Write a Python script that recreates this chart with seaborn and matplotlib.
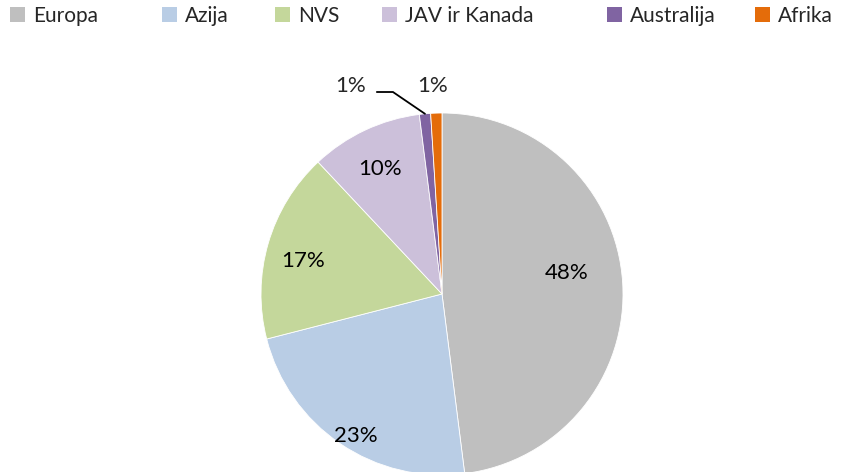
import numpy as np
import matplotlib
matplotlib.use("Agg")
import matplotlib.pyplot as plt
import seaborn as sns
from matplotlib.patches import Patch

categories = ["Europa", "Azija", "NVS", "JAV ir Kanada", "Australija", "Afrika"]
values = [48, 23, 17, 10, 1, 1]
pct_labels = ["48%", "23%", "17%", "10%", "1%", "1%"]
colors = ["#BFBFBF", "#B9CDE5", "#C4D79B", "#CCC0DA", "#8064A2", "#E46C0A"]

sns.set_theme(style="white")
plt.rcParams["font.family"] = ["Lato", "DejaVu Sans"]

fig = plt.figure(figsize=(8.66, 4.72), dpi=100)
W, H = 866, 472
cx, cy, R = 442, 294, 181
ax = fig.add_axes([(cx - R) / W, (H - cy - R) / H, 2 * R / W, 2 * R / H])

wedges, _ = ax.pie(values, colors=colors, startangle=90, counterclock=False,
                   wedgeprops=dict(edgecolor="white", linewidth=0.6))
ax.set_xlim(-1, 1)
ax.set_ylim(-1, 1)
ax.set_aspect("equal")
ax.axis("off")

FS = 16
# label placement (radius, angle offset in degrees) for the large slices
label_pos = {0: (0.70, 6), 1: (0.92, 3), 2: (0.79, 3), 3: (0.77, 1)}
for i, w in enumerate(wedges):
    mid = np.deg2rad((w.theta1 + w.theta2) / 2)
    if i in label_pos:
        r, off = label_pos[i]
        a = mid + np.deg2rad(off)
        ax.text(r * np.cos(a), r * np.sin(a), pct_labels[i], ha="center", va="center",
                fontsize=FS, color="black")

# small slices
w_au = wedges[4]
mid = np.deg2rad((w_au.theta1 + w_au.theta2) / 2)
tip = (np.cos(mid) * 1.0, np.sin(mid) * 1.0)
ax.plot([-0.36, -0.271, tip[0]], [1.116, 1.116, tip[1]], color="black", lw=1.3,
        clip_on=False, solid_joinstyle="miter")
ax.text(-0.503, 1.15, pct_labels[4], ha="center", va="center", fontsize=FS, clip_on=False)
ax.text(-0.05, 1.15, pct_labels[5], ha="center", va="center", fontsize=FS, clip_on=False)

# legend entries positioned individually (square left edges in px)
leg_x = [10, 162, 275, 382, 607, 755]
for cat, col, x in zip(categories, colors, leg_x):
    fig.legend([Patch(facecolor=col, edgecolor="none")], [cat],
               loc="upper left", bbox_to_anchor=(x / W, 1 - 6 / H),
               frameon=False, fontsize=15, handlelength=0.72, handleheight=0.75,
               handletextpad=0.4, borderpad=0, borderaxespad=0)

fig.savefig("out.png", dpi=100)
